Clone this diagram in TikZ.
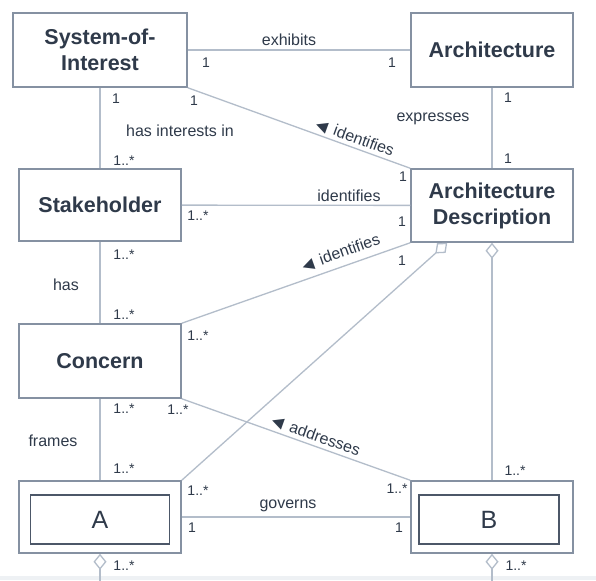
\documentclass[tikz,border=0pt]{standalone}
\usepackage{fontspec}
\setmainfont{Liberation Sans}
\newfontfamily\symfont{DejaVu Sans}
\usetikzlibrary{arrows.meta,calc}
\definecolor{txt}{HTML}{2F3A4A}
\definecolor{boxc}{HTML}{8591A2}
\definecolor{innerc}{HTML}{4C5768}
\definecolor{linec}{HTML}{B3BDCA}
\definecolor{bandc}{HTML}{EEF1F4}
\newcommand{\tri}{{\symfont\fontsize{15}{15}\selectfont ◀}\kern7pt}
\begin{document}
\begin{tikzpicture}[x=1pt,y=-1pt,
  box/.style={draw=boxc, line width=1.5pt, fill=white, minimum width=162pt, minimum height=73pt,
              inner sep=0pt, align=center, font=\fontsize{21.5}{26}\selectfont\bfseries, text=txt},
  innerbox/.style={draw=innerc, line width=1.6pt, minimum width=139pt, minimum height=49pt,
              inner sep=0pt, font=\fontsize{25}{28}\selectfont, text=txt},
  conn/.style={draw=linec, line width=1.3pt},
  agg/.style={conn, {Diamond[fill=white, length=16pt, width=13pt]}-},
  lbl/.style={font=\fontsize{16}{18}\selectfont, text=txt, inner sep=0pt},
  mult/.style={font=\fontsize{14}{16}\selectfont, text=txt, inner sep=0pt}
]
\useasboundingbox (0,0) rectangle (596,580);
\fill[white] (0,0) rectangle (596,580);
\fill[bandc] (0,576) rectangle (596,580);

% boxes
\node[box, minimum width=174pt, minimum height=74pt] (soi) at (100,50) {System-of-\\Interest};
\node[box, minimum height=74pt] (arch) at (492,50) {Architecture};
\node[box, minimum height=72pt] (stk) at (100,205) {Stakeholder};
\node[box] (ad) at (492,205.5) {Architecture\\Description};
\node[box, minimum height=74pt] (con) at (100,361) {Concern};
\node[box, minimum height=72pt] (A) at (100,517) {};
\node[innerbox] (Ain) at (100,519.5) {A};
\node[box, minimum height=72pt] (B) at (492,517) {};
\node[innerbox, minimum width=140pt] (Bin) at (489,519.5) {B};

\coordinate (adA) at ($(ad.south west)+(37,0)$);
\coordinate (Aend) at (100,582);
\coordinate (Bend) at (492,582);

% connectors
\draw[conn] (soi) -- (arch);
\draw[conn] (soi) -- (stk);
\draw[conn] (soi.south east) -- (ad.north west);
\draw[conn] (arch) -- (ad);
\draw[conn] (stk) -- (ad);
\draw[conn] (stk) -- (con);
\draw[conn] (con.north east) -- (ad.south west);
\draw[conn] (con) -- (A);
\draw[conn] (con.south east) -- (B.north west);
\draw[conn] (A) -- (B);
\draw[agg] (adA) -- (A.north east);
\draw[agg] (ad.south) -- (B.north);
\draw[agg] (A.south) -- (Aend);
\draw[agg] (B.south) -- (Bend);

% association labels
\node[lbl] (l1) at (289,40) {exhibits};
\node[lbl] (l2) at (180,131) {has interests in};
\node[lbl, rotate=-20.1] (l3) at (355,138) {\tri identifies};
\node[lbl] (l4) at (433,119) {expresses};
\node[lbl] (l5) at (349,196) {identifies};
\node[lbl, rotate=19.6] (l6) at (341,253) {\tri identifies};
\node[lbl] (l7) at (66,285) {has};
\node[lbl] (l8) at (53,441) {frames};
\node[lbl, rotate=-19.8] (l9) at (316,436) {\tri addresses};
\node[lbl] (l10) at (288,506) {governs};

% multiplicities
\node[mult] (m1) at (206,63) {1};
\node[mult] (m2) at (392,63) {1};
\node[mult] (m3) at (116,99) {1};
\node[mult] (m4) at (194,101) {1};
\node[mult] (m5) at (124,161) {1..*};
\node[mult] (m6) at (403,177) {1};
\node[mult] (m7) at (508,98) {1};
\node[mult] (m8) at (508,159) {1};
\node[mult] (m9) at (198,216) {1..*};
\node[mult] (m10) at (402,222) {1};
\node[mult] (m11) at (402,261) {1};
\node[mult] (m12) at (124,255) {1..*};
\node[mult] (m13) at (124,315) {1..*};
\node[mult] (m14) at (198,336) {1..*};
\node[mult] (m15) at (124,409) {1..*};
\node[mult] (m16) at (178,410) {1..*};
\node[mult] (m17) at (124,469) {1..*};
\node[mult] (m18) at (198,491) {1..*};
\node[mult] (m19) at (192,528) {1};
\node[mult] (m20) at (397,489) {1..*};
\node[mult] (m21) at (399,528) {1};
\node[mult] (m22) at (515,471) {1..*};
\node[mult] (m23) at (124,566) {1..*};
\node[mult] (m24) at (516,566) {1..*};
\end{tikzpicture}
\end{document}
